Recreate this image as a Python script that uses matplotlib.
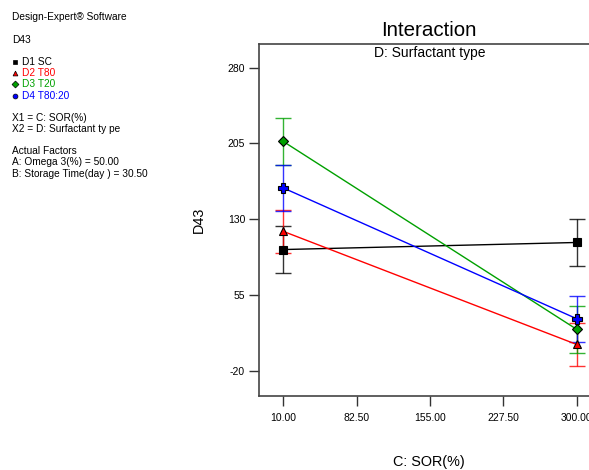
import matplotlib
matplotlib.use("Agg")
import matplotlib.pyplot as plt
from matplotlib.lines import Line2D

plt.rcParams["font.family"] = ["Liberation Sans", "DejaVu Sans"]

sor = [10.0, 300.0]
series_names = ["D1 SC", "D2 T80", "D3 T20", "D4 T80:20"]
colors = ["black", "red", "#00A000", "blue"]
markers = ["s", "^", "D", "P"]
values = {
    "D1 SC": [100.0, 107.0],
    "D2 T80": [118.0, 6.0],
    "D3 T20": [207.0, 21.0],
    "D4 T80:20": [161.0, 31.5],
}
errors = {
    "D1 SC": [23.0, 23.0],
    "D2 T80": [21.5, 21.0],
    "D3 T20": [23.0, 23.0],
    "D4 T80:20": [23.0, 23.0],
}
xticks = [10.0, 82.5, 155.0, 227.5, 300.0]
xtick_labels = ["10.00", "82.50", "155.00", "227.50", "300.00"]
yticks = [-20, 55, 130, 205, 280]

W, H = 589, 470
fig = plt.figure(figsize=(W / 100, H / 100), dpi=100)
left, right, top, bottom = 259, 601, 43.5, 396
ax = fig.add_axes([left / W, 1 - bottom / H, (right - left) / W, (bottom - top) / H])

msizes = {"s": 5.5, "^": 6, "D": 4.8, "P": 6.5}
for name, c, m in zip(series_names, colors, markers):
    v = values[name]
    e = errors[name]
    ax.plot(sor, v, color=c, lw=1.0, zorder=3)
    ax.errorbar(sor, v, yerr=e, fmt="none", ecolor=c, elinewidth=1.0,
                capsize=6, capthick=1.0, alpha=0.8, zorder=2)
    ax.plot(sor, v, linestyle="none", marker=m, markersize=msizes[m],
            markerfacecolor=c, markeredgecolor="black", markeredgewidth=0.8, zorder=4)

ax.set_xlim(-14, 324)
ax.set_ylim(-45, 304)
ax.set_xticks(xticks)
ax.set_xticklabels(xtick_labels)
ax.set_yticks(yticks)
ax.set_yticklabels([str(t) for t in yticks])
ax.tick_params(axis="both", direction="out", length=7, width=1, labelsize=7.5, color="#333333")
ax.tick_params(axis="x", pad=5)
ax.tick_params(axis="y", pad=3)
for s in ["left", "top", "bottom"]:
    ax.spines[s].set_color("#444444")
    ax.spines[s].set_linewidth(1.2)
ax.spines["right"].set_visible(False)

fig.text(429 / W, 1 - 31 / H, "Interaction", ha="center", va="center", fontsize=14.8)
fig.text(430 / W, 1 - 53 / H, "D: Surfactant type", ha="center", va="center", fontsize=10)
fig.text(199 / W, 1 - 220 / H, "D43", ha="center", va="center", fontsize=10.4, rotation=90)
fig.text(429 / W, 1 - 462 / H, "C: SOR(%)", ha="center", va="center", fontsize=10.4)

fs = 7.3
def ftxt(x, y, s, color="black"):
    fig.text(x / W, 1 - y / H, s, ha="left", va="center", fontsize=fs, color=color)

ftxt(12, 17, "Design-Expert® Software")
ftxt(12, 40, "D43")
leg_y = [62, 73, 84, 96]
leg_markers = ["s", "^", "D", "o"]
for yy, name, c, m in zip(leg_y, series_names, colors, leg_markers):
    fig.add_artist(Line2D([15 / W], [1 - yy / H], transform=fig.transFigure, marker=m,
                          markersize=3.5, markerfacecolor=c, markeredgecolor="black",
                          markeredgewidth=0.5, linestyle="none"))
    ftxt(22, yy, name, color=c)
ftxt(12, 118, "X1 = C: SOR(%)")
ftxt(12, 129, "X2 = D: Surfactant ty pe")
ftxt(12, 151, "Actual Factors")
ftxt(12, 162, "A: Omega 3(%) = 50.00")
ftxt(12, 174, "B: Storage Time(day ) = 30.50")

fig.savefig("out.png", dpi=100)
